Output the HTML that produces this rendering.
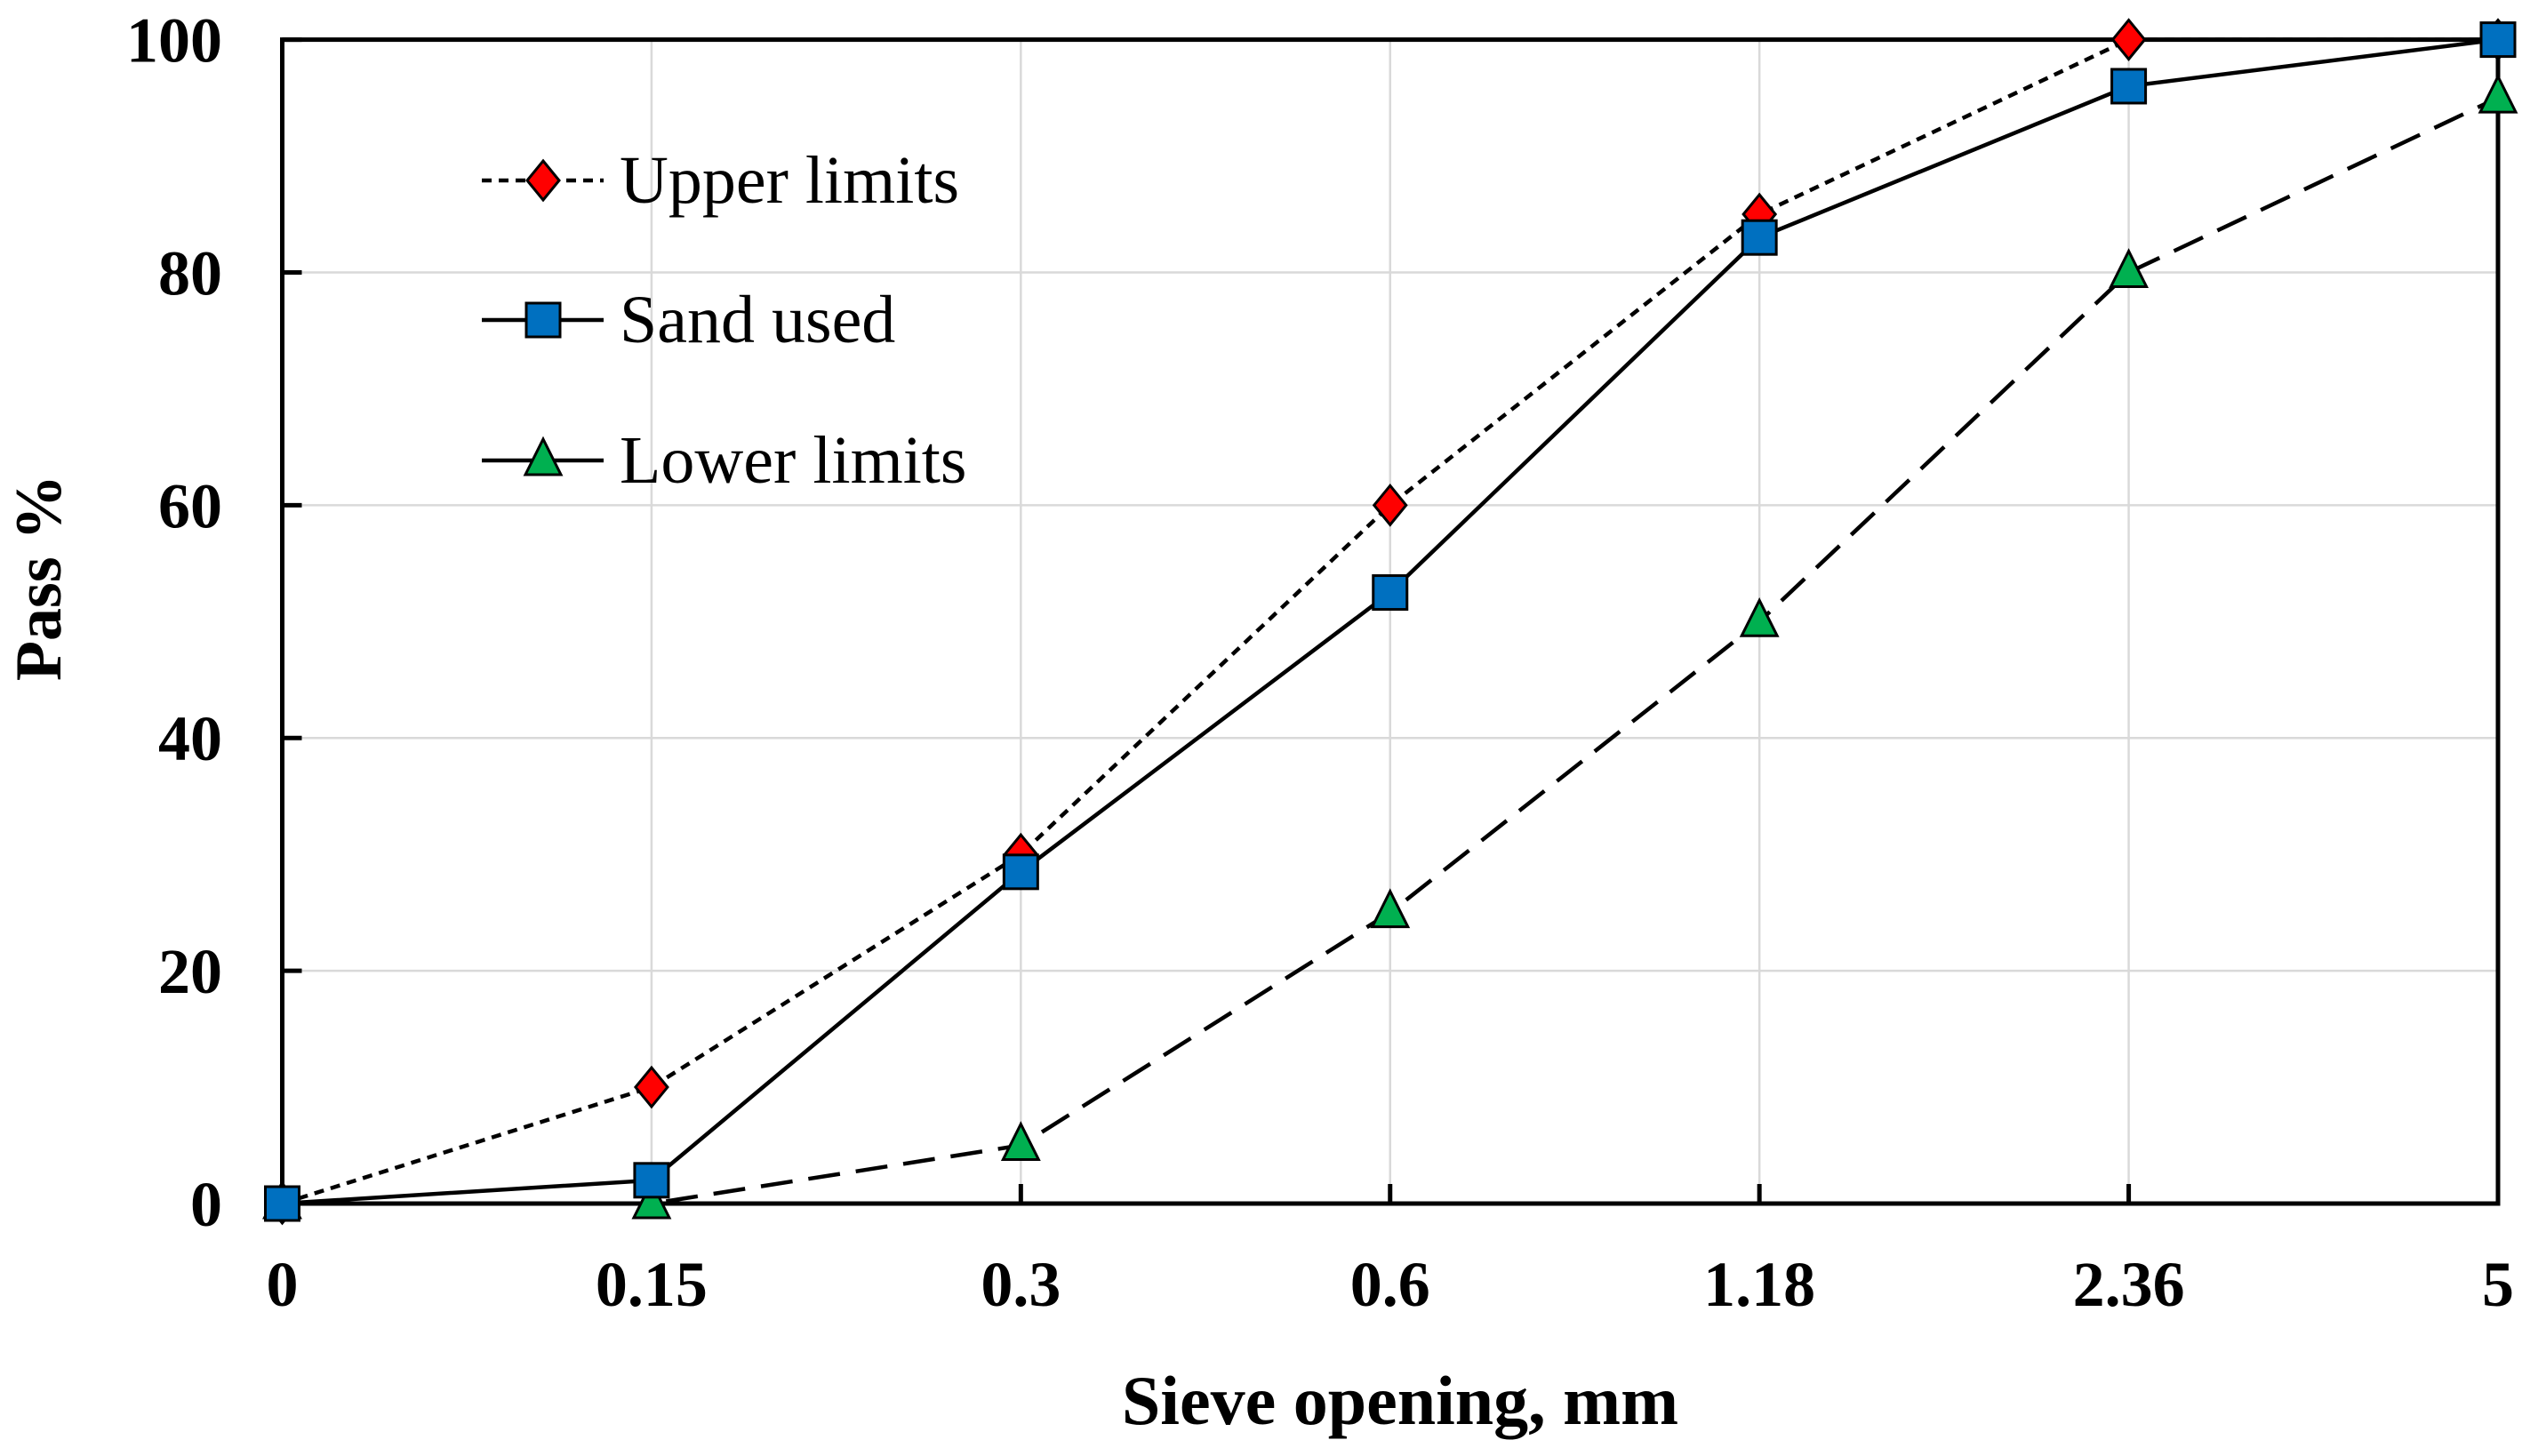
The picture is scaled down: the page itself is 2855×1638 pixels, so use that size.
<!DOCTYPE html>
<html><head><meta charset="utf-8"><style>
html,body{margin:0;padding:0;background:#fff;}
svg{display:block;font-family:"Liberation Serif",serif;}
</style></head><body>
<svg id="chart" width="2855" height="1638" xmlns="http://www.w3.org/2000/svg"></svg>
<script>
const categories = ["0","0.15","0.3","0.6","1.18","2.36","5"];
const upperLimits = [0,10,30,60,85,100,100];
const sandUsed = [0,2,28.5,52.5,83,96,100];
const lowerLimits = [0,0,5,25,50,80,95];
const yTicks = [0,20,40,60,80,100];

const NS="http://www.w3.org/2000/svg";
const svg=document.getElementById('chart');
const L=317.5,R=2810,T=44.6,B=1354;
function xPos(i){return L+(R-L)*i/(categories.length-1);}
function yPos(v){return B-(B-T)*v/100;}
function mk(tag,attrs,parent){const e=document.createElementNS(NS,tag);for(const k in attrs)e.setAttribute(k,attrs[k]);(parent||svg).appendChild(e);return e;}

yTicks.forEach(v=>{if(v>0&&v<100){const g=mk('line',{x1:L,x2:R,y1:yPos(v),y2:yPos(v),stroke:'#d9d9d9','stroke-width':2.5});

}});
categories.forEach((c,i)=>{if(i>0&&i<categories.length-1){const g=mk('line',{x1:xPos(i),x2:xPos(i),y1:T,y2:B,stroke:'#d9d9d9','stroke-width':2.5});

}});

const fr=mk('rect',{x:L,y:T,width:R-L,height:B-T,fill:'none',stroke:'#000','stroke-width':5});



yTicks.forEach(v=>{
  const t=mk('line',{x1:L,x2:L+22,y1:yPos(v),y2:yPos(v),stroke:'#000','stroke-width':5});
  
  
  const tx=mk('text',{x:250,y:yPos(v)+25,'text-anchor':'end','font-size':72,'font-weight':'bold'});
  tx.textContent=v;
  
  
});
categories.forEach((c,i)=>{
  const t=mk('line',{x1:xPos(i),x2:xPos(i),y1:B,y2:B-22,stroke:'#000','stroke-width':5});
  
  
  const tx=mk('text',{x:xPos(i),y:1469,'text-anchor':'middle','font-size':72,'font-weight':'bold'});
  tx.textContent=c;
  
  
});

const xt=mk('text',{x:1575,y:1602,'text-anchor':'middle','font-size':78,'font-weight':'bold'});
xt.textContent='Sieve opening, mm';


const yt=mk('text',{x:0,y:0,'text-anchor':'middle','font-size':74,'font-weight':'bold',transform:'translate(68,650) rotate(-90)'});
yt.textContent='Pass %';



function marker(type,x,y,parent){
  if(type==='diamond')return mk('polygon',{points:`${x},${y-22} ${x+18},${y} ${x},${y+22} ${x-18},${y}`,fill:'#ff0000',stroke:'#000','stroke-width':3},parent);
  if(type==='square')return mk('rect',{x:x-19,y:y-19,width:38,height:38,fill:'#0070c0',stroke:'#000','stroke-width':3},parent);
  return mk('polygon',{points:`${x},${y-24} ${x+20},${y+16} ${x-20},${y+16}`,fill:'#00b050',stroke:'#000','stroke-width':3},parent);
}
const series=[
  {name:'upper-limits',vals:upperLimits,dash:'11 8',m:'diamond'},
  {name:'lower-limits',vals:lowerLimits,dash:'36 18',m:'triangle'},
  {name:'sand-used',vals:sandUsed,dash:'',m:'square'}
];
series.forEach(s=>{
  const g=mk('g',{});
  
  
  const pts=s.vals.map((v,i)=>xPos(i)+','+yPos(v)).join(' ');
  const pl=mk('polyline',{points:pts,fill:'none',stroke:'#000','stroke-width':4.5,'stroke-dasharray':s.dash},g);
  
  
  s.vals.forEach((v,i)=>{
    const m=marker(s.m,xPos(i),yPos(v),g);
    
    
  });
});

const leg=mk('g',{});


const legItems=[['Upper limits','11 8','diamond',203],['Sand used','','square',360],['Lower limits','','triangle',518]];
legItems.forEach(it=>{
  const g=mk('g',{},leg);
  
  
  mk('line',{x1:542,x2:679,y1:it[3],y2:it[3],stroke:'#000','stroke-width':4.5,'stroke-dasharray':it[1]},g);
  marker(it[2],611,it[3],g);
  const t=mk('text',{x:697,y:it[3]+25,'font-size':76},g);
  t.textContent=it[0];
});
</script>
</body></html>
